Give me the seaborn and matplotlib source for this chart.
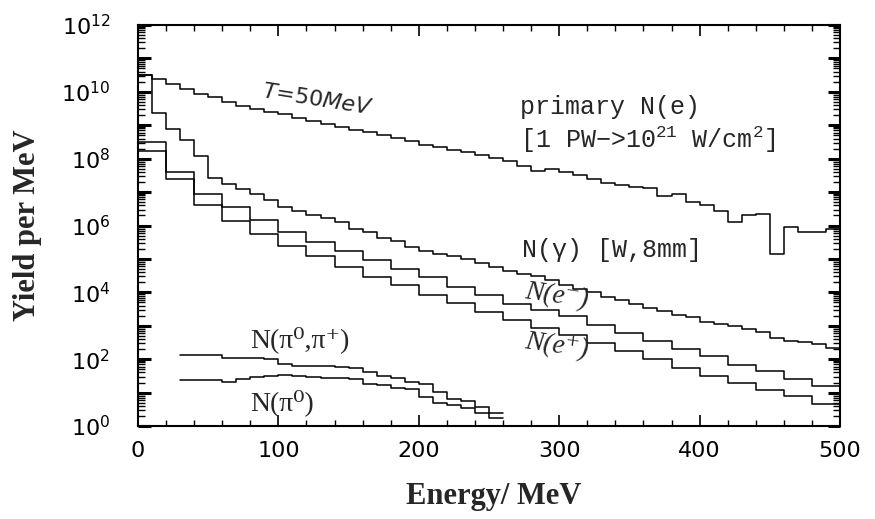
import numpy as np
import pandas as pd
import matplotlib
matplotlib.use("Agg")
import matplotlib.pyplot as plt
import seaborn as sns
from matplotlib.ticker import LogLocator, NullFormatter, MultipleLocator

# ---------------- data ----------------
edges_10 = list(range(0, 510, 10))     # 10 MeV bins, 0..500
edges_20 = list(range(0, 520, 20))     # 20 MeV bins, 0..500
edges_pi = list(range(30, 270, 10))    # pion bins, 30..260

primary_e = [3.2e10, 2.4e10, 1.66e10, 1.2e10, 8.9e9, 6.8e9, 5.0e9, 3.8e9, 3.0e9, 2.5e9,
             2.1e9, 1.66e9, 1.32e9, 1.07e9, 8.9e8, 7.4e8, 6.2e8, 5.0e8, 4.2e8, 3.3e8,
             2.6e8, 2.2e8, 1.8e8, 1.55e8, 1.26e8, 1.05e8, 8.7e7, 6.0e7, 4.2e7, 4.8e7,
             4.0e7, 3.2e7, 2.4e7, 1.9e7, 1.6e7, 1.45e7, 1.32e7, 7.9e6, 8.9e6, 5.2e6,
             4.2e6, 2.8e6, 1.3e6, 2.0e6, 2.2e6, 1.45e5, 8.9e5, 6.3e5, 6.6e5, 7.9e5]

photons = [3.2e10, 2.4e9, 7.8e8, 3.5e8, 1.23e8, 2.6e7, 1.74e7, 1.26e7, 8.9e6, 5.6e6,
           3.55e6, 2.8e6, 2.1e6, 1.7e6, 1.26e6, 7.6e5, 6.3e5, 4.2e5, 3.55e5, 2.24e5,
           1.78e5, 1.45e5, 1.26e5, 1.0e5, 7.6e4, 5.6e4, 4.4e4, 3.6e4, 3.0e4, 2.3e4,
           1.66e4, 1.26e4, 1.0e4, 7.2e3, 5.8e3, 4.6e3, 3.4e3, 2.8e3, 2.1e3, 1.8e3,
           1.29e3, 1.1e3, 9.5e2, 7.9e2, 6.5e2, 4.4e2, 3.6e2, 3.2e2, 2.75e2, 2.2e2]

electrons = [3.1e8, 3.9e7, 8.5e6, 3.55e6, 1.48e6, 6.3e5, 3.16e5, 1.78e5, 9.1e4, 5.1e4,
             2.9e4, 1.45e4, 8.1e3, 4.6e3, 2.9e3, 1.9e3, 1.02e3, 5.9e2, 3.5e2, 1.95e2,
             1.23e2, 66, 45, 26, 15.5]

positrons = [1.74e8, 2.45e7, 4.0e6, 1.41e6, 5.6e5, 2.5e5, 1.2e5, 5.8e4, 2.9e4, 1.62e4,
             8.5e3, 4.8e3, 2.6e3, 1.45e3, 8.3e2, 5.2e2, 3.0e2, 1.78e2, 98, 56,
             31, 19.5, 11.7, 7.9, 4.6]

pions_all = [132, 132, 132, 105, 105, 105, 100, 74, 63, 63, 62, 60,
             56, 42, 32, 28, 21, 17.8, 10.5, 6.3, 5.6, 3.8, 2.4]

pions_0 = [24.5, 24.5, 24.5, 21, 25, 29.5, 31.6, 33, 31.6, 29.5, 28, 27.5,
           25, 18.6, 16.6, 14.1, 12.6, 7.4, 5.0, 4.2, 3.5, 2.4, 1.7]

x_ticks = [0, 100, 200, 300, 400, 500]
y_exponents = list(range(0, 13))


def step_table(edges, values):
    """Histogram outline table: value of the last bin repeated at the last edge."""
    return pd.DataFrame({"E": edges, "Y": list(values) + [values[-1]]})


# ---------------- figure ----------------
sns.set_theme(style="ticks")
plt.rcParams["font.family"] = ["DejaVu Sans"]
plt.rcParams["mathtext.default"] = "regular"

fig = plt.figure(figsize=(8.75, 5.19), dpi=100)
ax = fig.add_axes([138 / 875, 93 / 519, 702 / 875, 401 / 519])

series = [
    (edges_10, primary_e),
    (edges_10, photons),
    (edges_20, electrons),
    (edges_20, positrons),
    (edges_pi, pions_all),
    (edges_pi, pions_0),
]
for edges, vals in series:
    sns.lineplot(data=step_table(edges, vals), x="E", y="Y", drawstyle="steps-post",
                 color="black", lw=1.1, estimator=None, sort=False, ax=ax)

ax.set_yscale("log")
ax.set_xlim(0, 500)
ax.set_ylim(1, 1e12)

# ticks
ax.set_xticks(x_ticks)
ax.set_xticklabels([str(t) for t in x_ticks])
ax.xaxis.set_minor_locator(MultipleLocator(20))
ax.set_yticks([10.0 ** k for k in y_exponents])
ax.set_yticklabels([f"$10^{{{k}}}$" if k % 2 == 0 else "" for k in y_exponents])
ax.yaxis.set_minor_locator(LogLocator(base=10, subs=np.arange(2, 10), numticks=100))
ax.yaxis.set_minor_formatter(NullFormatter())

ax.tick_params(axis="both", which="both", direction="in", top=True, right=True,
               colors="black")
ax.tick_params(axis="x", which="major", length=8, width=1.2, pad=11, labelsize=16)
ax.tick_params(axis="x", which="minor", length=4, width=1.0)
ax.tick_params(axis="y", which="major", length=9, width=2.2, pad=20, labelsize=16)
ax.tick_params(axis="y", which="minor", length=5, width=1.0)
for s in ax.spines.values():
    s.set_linewidth(1.5)
    s.set_color("black")

ax.set_xlabel("Energy/ MeV", fontfamily="Liberation Serif", fontweight="bold",
              fontsize=22, va="center")
ax.xaxis.set_label_coords(0.507, -0.177)
ax.set_ylabel("Yield per MeV", fontfamily="Liberation Serif", fontweight="bold",
              fontsize=22, va="center")
ax.yaxis.set_label_coords(-0.158, 0.5)

# annotations
mono = ["Liberation Mono", "DejaVu Sans Mono"]
serif = ["Liberation Serif", "DejaVu Serif"]
ax.text(128, 10 ** 9.75, r"$\mathit{T}$=50$\mathit{MeV}$", fontsize=16, rotation=-9,
        ha="center", va="center", family=["DejaVu Sans"])
ax.text(272, 10 ** 9.55, "primary N(e)", fontsize=18, family=mono, va="center")
ax.text(272, 10 ** 8.56, r"[1 PW−>10$^{21}$ W/cm$^{2}$]", fontsize=18, family=mono,
        va="center")
ax.text(273, 10 ** 5.27, r"N($\gamma$) [W,8mm]", fontsize=18, family=mono, va="center")
ax.text(274, 10 ** 3.89, "N(e⁻)", fontsize=20, family=serif, style="italic",
        va="center", rotation=-8)
ax.text(274, 10 ** 2.39, "N(e⁺)", fontsize=20, family=serif, style="italic",
        va="center", rotation=-8)
ax.text(80, 10 ** 2.57, "N(π⁰,π⁺)", fontsize=20, family=serif, va="center")
ax.text(80, 10 ** 0.69, "N(π⁰)", fontsize=20, family=serif, va="center")

fig.savefig("out.png", dpi=100)
